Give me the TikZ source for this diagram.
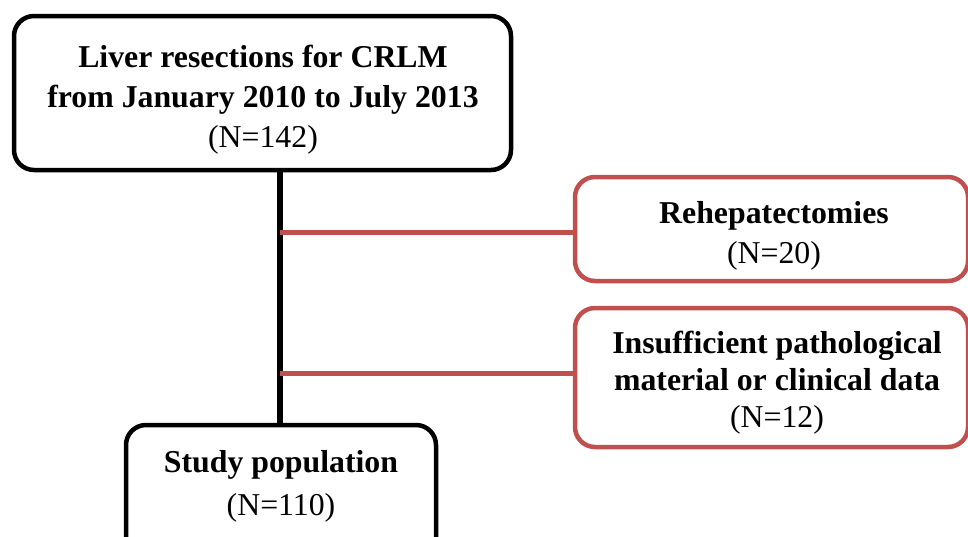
\documentclass[tikz,border=0pt]{standalone}
\usepackage{fontspec}
\setmainfont{Liberation Serif}
\definecolor{exred}{HTML}{C0504D}
\begin{document}
\begin{tikzpicture}[x=1pt,y=-1pt,
  blackbox/.style={draw=black, line width=4.5pt, rounded corners=20pt, rectangle, inner sep=0pt},
  redbox/.style={draw=exred, line width=4.5pt, rounded corners=20pt, rectangle, inner sep=0pt},
  boxtext/.style={align=center, inner sep=0pt, font=\fontsize{31.8}{40}\selectfont},
  spine/.style={draw=black, line width=5.5pt},
  branch/.style={draw=exred, line width=5pt}]
\useasboundingbox (0,0) rectangle (968,536);
% boxes
\node[blackbox, minimum width=497pt, minimum height=154pt] (top) at (262.5,93) {};
\node[redbox, minimum width=393pt, minimum height=104pt] (ex1) at (771.5,229) {};
\node[redbox, minimum width=393pt, minimum height=139pt] (ex2) at (771.5,377.5) {};
\node[blackbox, minimum width=310pt, minimum height=195pt] (bot) at (281,522.5) {};
% texts
\node[boxtext] (toptext) at (263,100) {\textbf{Liver resections for CRLM}\\\textbf{from January 2010 to July 2013}\\(N=142)};
\node[boxtext] (ex1text) at (774,236) {\textbf{Rehepatectomies}\\(N=20)};
\node[boxtext, font=\fontsize{31.8}{37}\selectfont] (ex2text) at (777,383) {\textbf{Insufficient pathological}\\\textbf{material or clinical data}\\(N=12)};
\node[boxtext, font=\fontsize{31.8}{43}\selectfont] (bottext) at (281,486) {\textbf{Study population}\\(N=110)};
% connectors
\coordinate (s1) at (280,232);
\coordinate (s2) at (280,373);
\draw[spine] (top.south -| s1) -- (bot.north -| s1);
\draw[branch] (s1) -- (s1 -| ex1.west);
\draw[branch] (s2) -- (s2 -| ex2.west);
\end{tikzpicture}
\end{document}
